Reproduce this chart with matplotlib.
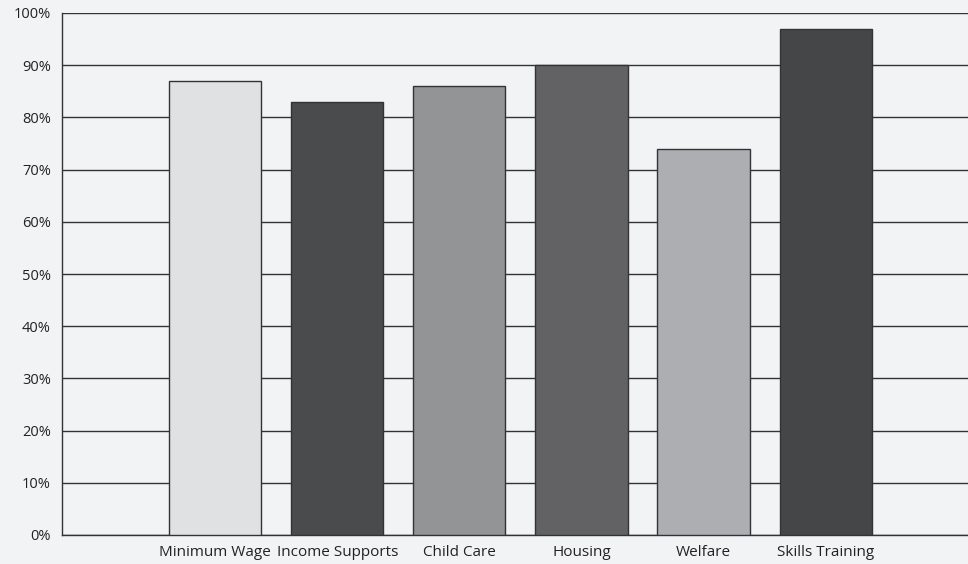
import matplotlib
matplotlib.use("Agg")
import matplotlib.pyplot as plt
from matplotlib.ticker import FuncFormatter

categories = ["Minimum Wage", "Income Supports", "Child Care", "Housing", "Welfare", "Skills Training"]
values = [87, 83, 86, 90, 74, 97]
colors = ["#e0e1e3", "#4a4b4d", "#939496", "#626264", "#adaeb1", "#454648"]
yticks = [0, 10, 20, 30, 40, 50, 60, 70, 80, 90, 100]

plt.rcParams['font.family'] = ['Open Sans', 'DejaVu Sans']
bg = "#f2f3f5"
fig = plt.figure(figsize=(9.68, 5.64), dpi=100, facecolor=bg)
ax = fig.add_axes([62/968, 1-535/564, 1-62/968, (535-13)/564], facecolor=bg)

x = list(range(len(categories)))
ax.bar(x, values, width=0.755, color=colors, edgecolor="#333333", linewidth=1, zorder=3)

ax.set_ylim(0, 100)
ax.set_xlim(-1.254, 6.166)
ax.set_yticks(yticks)
ax.yaxis.set_major_formatter(FuncFormatter(lambda v, p: f"{int(v)}%"))
ax.set_xticks(x)
ax.set_xticklabels(categories)
ax.grid(axis='y', color="#333333", linewidth=1, zorder=1)
ax.tick_params(axis='x', length=0, labelsize=11, colors="#222222", pad=7)
ax.tick_params(axis='y', length=0, labelsize=10.5, colors="#222222", pad=8)
for s in ['top', 'right']:
    ax.spines[s].set_visible(False)
for s in ['left', 'bottom']:
    ax.spines[s].set_color("#333333")
    ax.spines[s].set_linewidth(1)

fig.savefig("out.png", dpi=100, facecolor=bg)
